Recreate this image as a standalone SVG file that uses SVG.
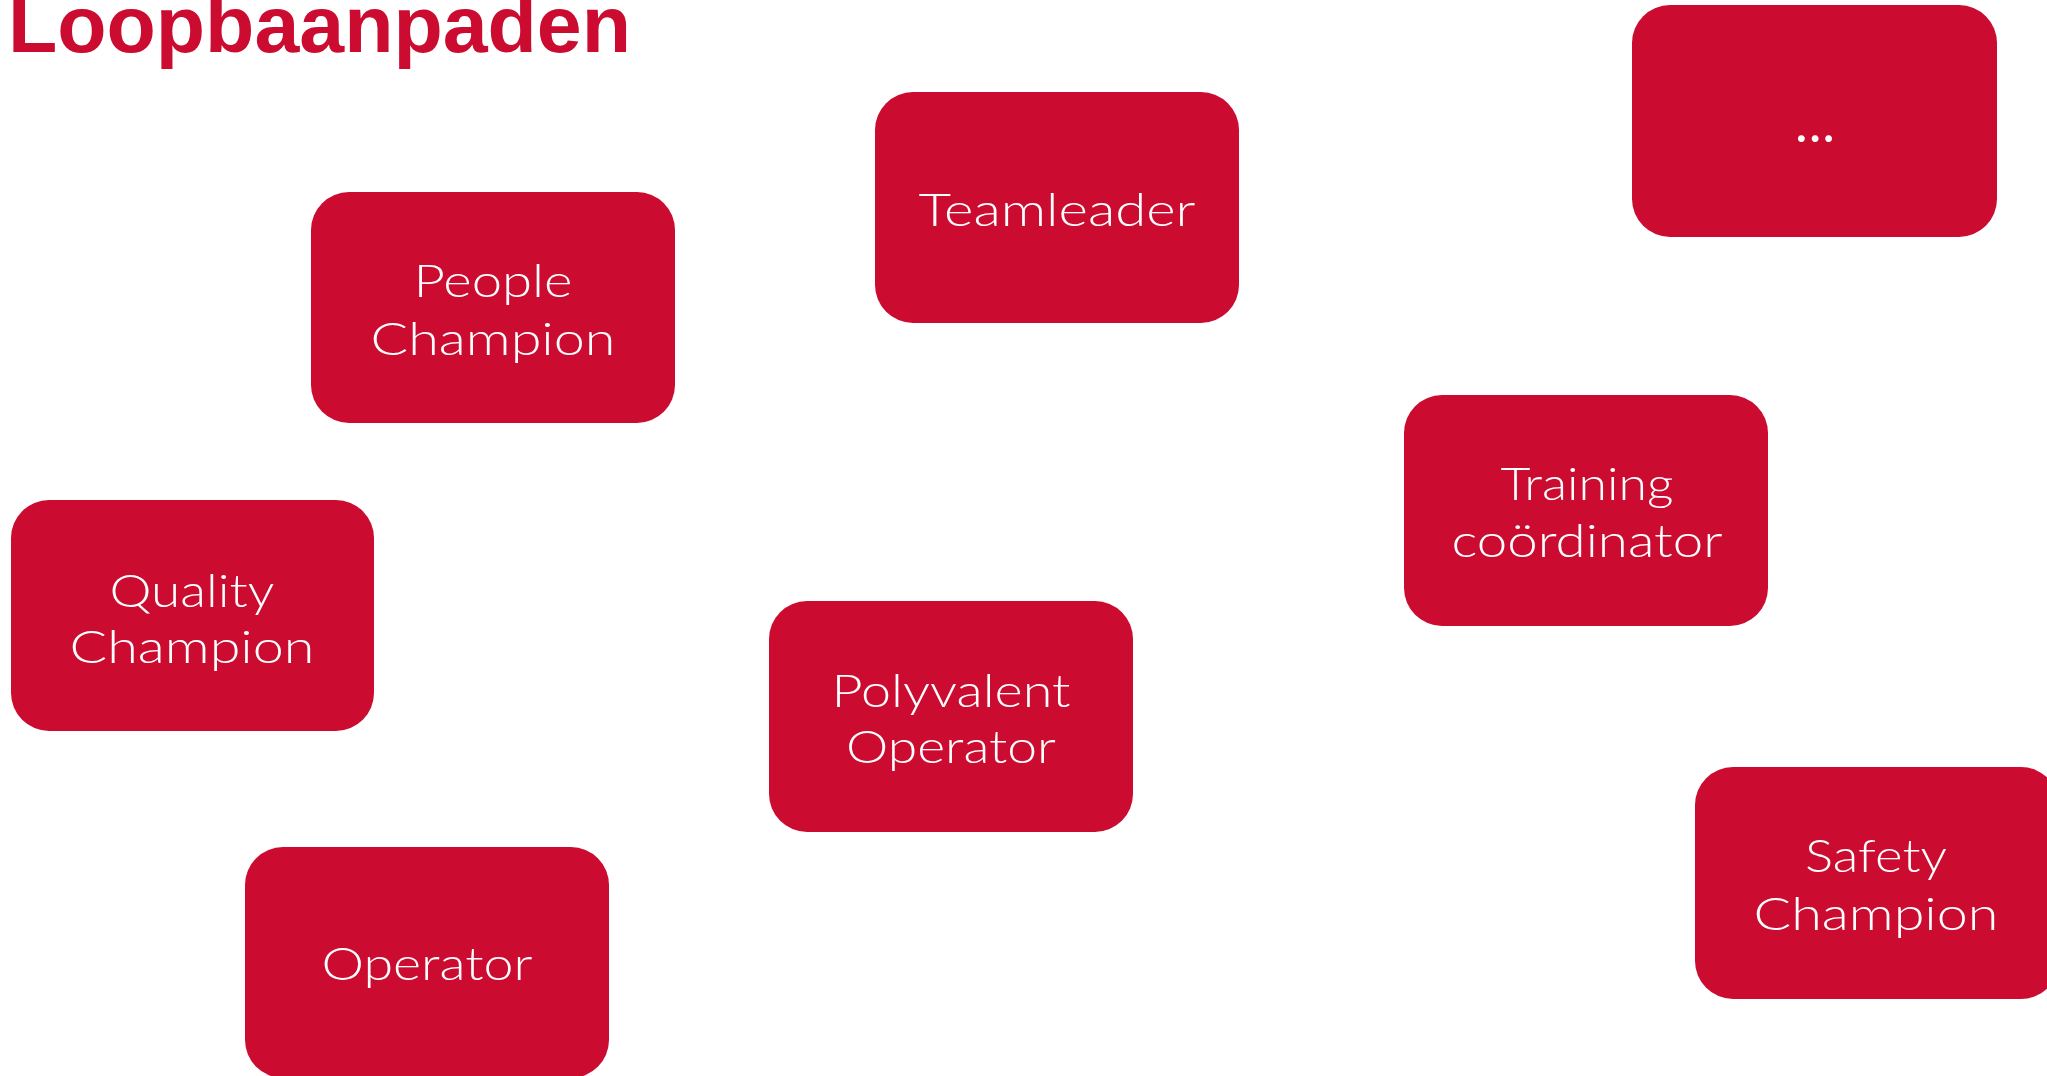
<svg xmlns="http://www.w3.org/2000/svg" width="2047" height="1076" viewBox="0 0 2047 1076">
<style>
.box{fill:#CB0B30}
.lbl{fill:#FFFFFF;font-family:Lato,"Liberation Sans","DejaVu Sans",sans-serif;font-weight:300;font-size:46px;text-anchor:middle}
.title{fill:#CB0B30;font-family:"Liberation Sans",Arial,sans-serif;font-weight:700;font-size:80px}
</style>
<rect x="0" y="0" width="2047" height="1076" fill="#FFFFFF"/>
<text class="title" x="8" y="52" textLength="623" lengthAdjust="spacingAndGlyphs">Loopbaanpaden</text>
<g id="connectors"/>
<g id="teamleader">
<rect class="box" x="875" y="92" width="364" height="231" rx="38"/>
<text class="lbl" x="1057" y="226" textLength="277" lengthAdjust="spacingAndGlyphs">Teamleader</text>
</g>
<g id="more">
<rect class="box" x="1632" y="5" width="365" height="232" rx="38"/>
<text class="lbl" x="1815" y="142" style="font-weight:400;font-size:54px" textLength="40" lengthAdjust="spacing">...</text>
</g>
<g id="people-champion">
<rect class="box" x="311" y="192" width="364" height="231" rx="38"/>
<text class="lbl" x="493" y="297" textLength="159" lengthAdjust="spacingAndGlyphs">People</text>
<text class="lbl" x="493" y="355" textLength="245" lengthAdjust="spacingAndGlyphs">Champion</text>
</g>
<g id="training-coordinator">
<rect class="box" x="1404" y="395" width="364" height="231" rx="38"/>
<text class="lbl" x="1587" y="500" textLength="173" lengthAdjust="spacingAndGlyphs">Training</text>
<text class="lbl" x="1587" y="557" textLength="271" lengthAdjust="spacingAndGlyphs">coördinator</text>
</g>
<g id="quality-champion">
<rect class="box" x="11" y="500" width="363" height="231" rx="38"/>
<text class="lbl" x="192" y="607" textLength="165" lengthAdjust="spacingAndGlyphs">Quality</text>
<text class="lbl" x="192" y="663" textLength="245" lengthAdjust="spacingAndGlyphs">Champion</text>
</g>
<g id="polyvalent-operator">
<rect class="box" x="769" y="601" width="364" height="231" rx="38"/>
<text class="lbl" x="951" y="707" textLength="239" lengthAdjust="spacingAndGlyphs">Polyvalent</text>
<text class="lbl" x="951" y="763" textLength="210" lengthAdjust="spacingAndGlyphs">Operator</text>
</g>
<g id="safety-champion">
<rect class="box" x="1695" y="767" width="364" height="232" rx="38"/>
<text class="lbl" x="1876" y="872" textLength="142" lengthAdjust="spacingAndGlyphs">Safety</text>
<text class="lbl" x="1876" y="930" textLength="245" lengthAdjust="spacingAndGlyphs">Champion</text>
</g>
<g id="operator">
<rect class="box" x="245" y="847" width="364" height="231" rx="38"/>
<text class="lbl" x="427" y="980" textLength="211" lengthAdjust="spacingAndGlyphs">Operator</text>
</g>
</svg>
